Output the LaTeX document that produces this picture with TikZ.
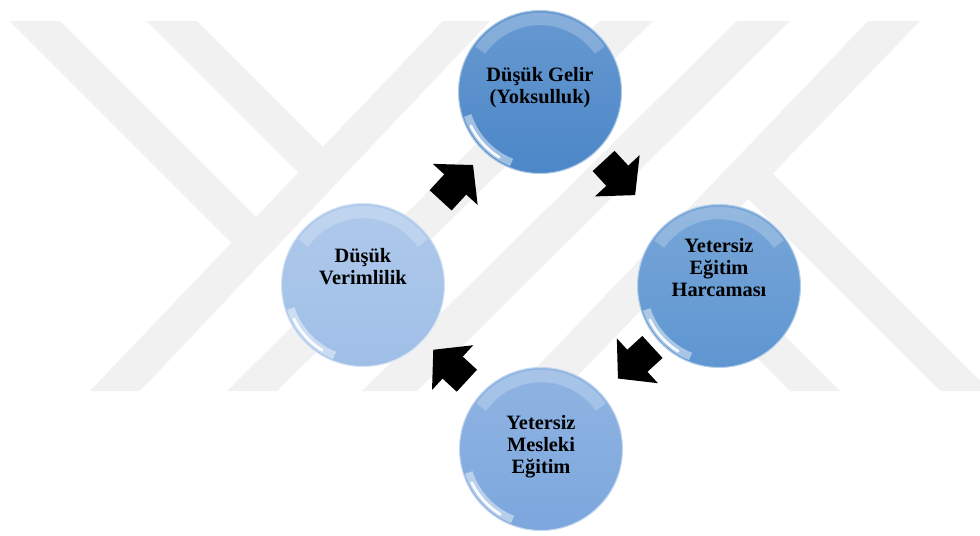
\documentclass[tikz,border=0pt]{standalone}
\usepackage{fontspec}
\setmainfont{Liberation Serif}
\usetikzlibrary{arrows.meta}

\definecolor{wmgray}{RGB}{241,241,241}
\definecolor{topblue}{RGB}{76,135,200}
\definecolor{rightblue}{RGB}{95,150,209}
\definecolor{bottomblue}{RGB}{124,167,221}
\definecolor{leftblue}{RGB}{160,191,231}

\newcommand\bubbletext[2][0pt]{\raisebox{#1}[0pt][0pt]{\begin{tabular}{@{}c@{}}#2\end{tabular}}}

\begin{document}
\begin{tikzpicture}[x=0.02cm, y=-0.02cm,
    bubble/.style={circle, minimum size=3.26cm, inner sep=0pt, outer sep=0pt,
      draw=#1!45!white, line width=0.6pt, top color=#1!85!white, bottom color=#1,
      font=\fontsize{11.6}{12.5}\selectfont\bfseries,
      path picture={
        \draw[white, opacity=.22, line width=7pt] (path picture bounding box.center) ++(35:1.46cm)
          arc[start angle=35, end angle=145, radius=1.46cm];
        \draw[white, opacity=.45, line width=4.5pt] (path picture bounding box.center) ++(198:1.52cm)
          arc[start angle=198, end angle=248, radius=1.52cm];
        \draw[white, opacity=.9, line width=1.6pt, line cap=round] (path picture bounding box.center) ++(206:1.54cm)
          arc[start angle=206, end angle=238, radius=1.54cm];
      }},
    flowarrow/.style={black, line width=17pt, -{Triangle[width=34pt, length=15pt, line width=3pt]}}]
  \fill[white] (0,0) rectangle (980,535);
  \useasboundingbox (0,0) rectangle (980,535);

  \fill[wmgray] (90,391) -- (140,391) -- (490,21) -- (443,21) -- cycle;
  \fill[wmgray] (227,391) -- (277,391) -- (653,21) -- (600,21) -- cycle;
  \fill[wmgray] (362,391) -- (417,391) -- (790,21) -- (737,21) -- cycle;
  \fill[wmgray] (868,21) -- (920,21) -- (563,391) -- (514,391) -- cycle;
  \fill[wmgray] (10,21) -- (60,21) -- (268,229) -- (244,255) -- cycle;
  \fill[wmgray] (147,21) -- (197,21) -- (335,159) -- (311,185) -- cycle;
  \fill[wmgray] (940,391) -- (990,391) -- (760,161) -- (735,186) -- cycle;
  \fill[wmgray] (790,391) -- (840,391) -- (686,237) -- (662,263) -- cycle;

  \node[bubble=topblue] (gelir) at (540,92) {\bubbletext[-1pt]{Düşük Gelir\\(Yoksulluk)}};
  \node[bubble=rightblue] (harcama) at (719,286) {\bubbletext[6pt]{Yetersiz\\Eğitim\\Harcaması}};
  \node[bubble=bottomblue] (meslek) at (541,449) {\bubbletext[-2pt]{Yetersiz\\Mesleki\\Eğitim}};
  \node[bubble=leftblue] (verim) at (363,285) {\bubbletext[6pt]{Düşük\\Verimlilik}};

  \draw[flowarrow, shorten <=7pt, shorten >=24pt] (gelir) -- (harcama);
  \draw[flowarrow, shorten <=5pt, shorten >=13pt] (harcama) -- (meslek);
  \draw[flowarrow, shorten <=11pt, shorten >=8pt] (meslek) -- (verim);
  \draw[flowarrow, shorten <=19pt, shorten >=10pt] (verim) -- (gelir);
\end{tikzpicture}
\end{document}
